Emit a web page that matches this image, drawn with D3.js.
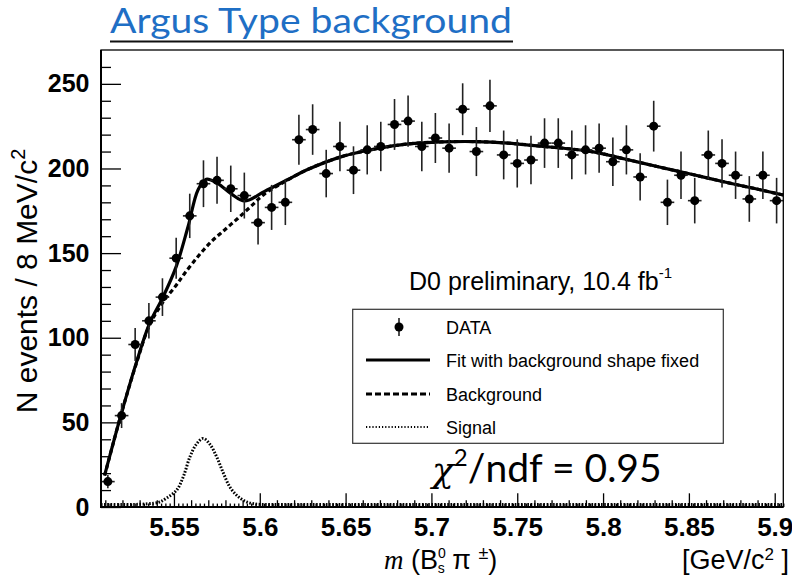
<!DOCTYPE html>
<html>
<head>
<meta charset="utf-8">
<script src="https://cdn.jsdelivr.net/npm/d3@7"></script>
<style>
  html, body { margin: 0; padding: 0; background: #fff; }
  svg { display: block; }
</style>
</head>
<body>
<div id="chart"></div>
<script>
// histogram: bin centres in GeV/c^2 and events per bin
const massBins = [5.5115, 5.5195, 5.5274, 5.5354, 5.5433, 5.5513, 5.5592, 5.5672, 5.5751, 5.5831,
                  5.5910, 5.5990, 5.6069, 5.6149, 5.6228, 5.6308, 5.6387, 5.6467, 5.6546, 5.6626,
                  5.6705, 5.6785, 5.6864, 5.6944, 5.7023, 5.7103, 5.7182, 5.7262, 5.7341, 5.7421,
                  5.7500, 5.7580, 5.7659, 5.7739, 5.7818, 5.7898, 5.7977, 5.8057, 5.8136, 5.8216,
                  5.8295, 5.8375, 5.8454, 5.8534, 5.8613, 5.8693, 5.8772, 5.8852, 5.8931, 5.9011];
const counts = [15, 54, 96, 110, 124, 147, 172, 191, 193, 188,
                184, 168, 177, 180, 217, 223, 197, 213, 199, 211,
                213, 226, 228, 213, 218, 212, 235, 210, 237, 208,
                203, 205, 215, 215, 208, 211, 212, 204, 211, 195,
                225, 180, 196, 181, 208, 203, 196, 182, 196, 181];

// fit curves
const fitMass = [5.5096, 5.5193, 5.5280, 5.5358, 5.5436, 5.5513, 5.5582, 5.5640, 5.5688, 5.5756,
                 5.5834, 5.5912, 5.6028, 5.6164, 5.6282, 5.6477, 5.6671, 5.6865, 5.7059, 5.7253,
                 5.7447, 5.7602, 5.7933, 5.8127, 5.8321, 5.8515, 5.8709, 5.8903, 5.9050];
const fitValues = [18.7, 55, 85, 108.5, 124, 142, 165.6, 187.3, 193.6, 191,
                   185, 180.8, 186.5, 193.5, 199.5, 207, 211.5, 214.5, 215.7, 215.9,
                   215, 213.5, 210, 205.6, 201, 196.6, 192, 187.7, 184.3];
const bkgMass = [5.5096, 5.5193, 5.5280, 5.5358, 5.5436, 5.5513, 5.5562, 5.5640, 5.5717, 5.5795,
                 5.5873, 5.5950, 5.6028, 5.6164, 5.6282, 5.6477, 5.6671, 5.6865, 5.7059, 5.7253,
                 5.7447, 5.7602, 5.7933, 5.8127, 5.8321, 5.8515, 5.8709, 5.8903, 5.9050];
const bkgValues = [18.5, 55, 84.5, 107.5, 121, 131, 138, 148, 156.7, 163.7,
                   170.6, 177.8, 185, 193.3, 199.5, 207, 211.5, 214.5, 215.7, 215.9,
                   215, 213.5, 210, 205.6, 201, 196.6, 192, 187.7, 184.3];
const sigMass = [5.5075, 5.5200, 5.5300, 5.5380, 5.5418, 5.5460, 5.5516, 5.5555, 5.5593, 5.5630,
                 5.5670, 5.5710, 5.5749, 5.5788, 5.5826, 5.5870, 5.5923, 5.5970, 5.6020, 5.6100,
                 5.6500, 5.7500, 5.9050];
const sigValues = [1.5, 1.5, 1.6, 2.2, 3, 5.5, 10, 18, 29.6, 37,
                   40.5, 37, 29.6, 20, 11.8, 6.5, 3, 1.8, 1.5, 1.5,
                   1.5, 1.5, 1.5];

const xMajorTicks = [5.55, 5.6, 5.65, 5.7, 5.75, 5.8, 5.85, 5.9];
const yMajorTicks = [0, 50, 100, 150, 200, 250];
const legendLabels = ["DATA", "Fit with background shape fixed", "Background", "Signal"];

const SANS = "'Liberation Sans', Arial, sans-serif";

class MassFitPlot {
    constructor(width, height) {
        this.width = width;
        this.height = height;
        this.left = 101;
        this.right = 783.3;
        this.top = 50;
        this.bottom = 507;
        this.binWidth = 0.00795;
    }

    plot(element_id) {
        this.svg = this._initPlotArea(element_id);
        this._setScale();
        this._addTitle();
        this._addCurves();
        this._addData();
        this._addAxis();
        this._addTexts();
        this._addLegend();
    }

    _initPlotArea(element_id) {
        d3.select(element_id).selectAll("svg").remove();
        return d3.select(element_id).append("svg")
            .attr("width", this.width).attr("height", this.height);
    }

    _setScale() {
        this.xScale = d3.scaleLinear().domain([5.5075, 5.905]).range([this.left, this.right]);
        this.yScale = d3.scaleLinear().domain([0, 270]).range([this.bottom, this.top]);
    }

    _addTitle() {
        this.svg.append("text")
            .attr("x", 110).attr("y", 33)
            .attr("textLength", 402).attr("lengthAdjust", "spacingAndGlyphs")
            .style("font-family", "Lato, 'Open Sans', sans-serif")
            .style("font-size", "34px")
            .attr("fill", "#1f6fc5")
            .text("Argus Type background");
        this.svg.append("line")
            .attr("x1", 110).attr("x2", 513).attr("y1", 41.5).attr("y2", 41.5)
            .attr("stroke", "#111").attr("stroke-width", 2);
    }

    _axisStyle(g) {
        g.select(".domain").remove();
        g.selectAll(".tick line").attr("stroke", "#000").attr("stroke-width", 1.3);
        g.selectAll("text")
            .style("font-family", SANS).style("font-weight", "bold")
            .style("font-size", "25px").attr("fill", "#000");
    }

    _addAxis() {
        let x = this.xScale, y = this.yScale;
        // tertiary and secondary ticks on the mass axis
        let tiny = d3.range(2203, 2363).filter(function (i) { return i % 4; }).map(function (i) { return i / 400; });
        let mid = d3.range(551, 591).filter(function (i) { return i % 5; }).map(function (i) { return i / 100; });

        this.svg.append("g").attr("transform", "translate(0," + this.bottom + ")")
            .call(d3.axisBottom(x).tickValues(tiny).tickSizeInner(-3.4).tickSizeOuter(0).tickFormat(""))
            .call(g => this._axisStyle(g));
        this.svg.append("g").attr("transform", "translate(0," + this.bottom + ")")
            .call(d3.axisBottom(x).tickValues(mid).tickSizeInner(-6.8).tickSizeOuter(0).tickFormat(""))
            .call(g => this._axisStyle(g));
        let xg = this.svg.append("g").attr("transform", "translate(0," + this.bottom + ")")
            .call(d3.axisBottom(x).tickValues(xMajorTicks).tickSizeInner(-13.7).tickSizeOuter(0)
                .tickPadding(11).tickFormat(d3.format("")))
            .call(g => this._axisStyle(g));
        xg.selectAll("text").style("font-size", "26px");

        let yMinor = d3.range(0, 261, 10).filter(function (v) { return v % 50; });
        this.svg.append("g").attr("transform", "translate(" + this.left + ",0)")
            .call(d3.axisLeft(y).tickValues(yMinor).tickSizeInner(-10).tickSizeOuter(0).tickFormat(""))
            .call(g => this._axisStyle(g));
        this.svg.append("g").attr("transform", "translate(" + this.left + ",0)")
            .call(d3.axisLeft(y).tickValues(yMajorTicks).tickSizeInner(-20).tickSizeOuter(0).tickPadding(11.5))
            .call(g => this._axisStyle(g));

        // frame
        this.svg.append("rect")
            .attr("x", this.left).attr("y", this.top)
            .attr("width", this.right - this.left).attr("height", this.bottom - this.top)
            .attr("fill", "none").attr("stroke", "#000").attr("stroke-width", 1.3);
        this.svg.append("path")
            .attr("d", "M" + this.left + "," + this.top + "V" + this.bottom + "H" + this.right)
            .attr("fill", "none").attr("stroke", "#000").attr("stroke-width", 2);
    }

    _curve(masses, values) {
        let x = this.xScale, y = this.yScale;
        return d3.line()
            .x(function (d) { return x(d[0]); })
            .y(function (d) { return y(d[1]); })
            .curve(d3.curveCatmullRom.alpha(0.5))(d3.zip(masses, values));
    }

    _addCurves() {
        let g = this.svg.append("g").attr("fill", "none").attr("stroke", "#000");
        g.append("path").attr("d", this._curve(sigMass, sigValues))
            .attr("stroke-width", 3).attr("stroke-dasharray", "1.6,1.6");
        g.append("path").attr("d", this._curve(bkgMass, bkgValues))
            .attr("stroke-width", 3.2).attr("stroke-dasharray", "4.5,3");
        g.append("path").attr("d", this._curve(fitMass, fitValues))
            .attr("stroke-width", 3.2).attr("stroke-linejoin", "round");
    }

    _addData() {
        let x = this.xScale, y = this.yScale, half = this.binWidth / 2;
        let data = d3.zip(massBins, counts);
        let g = this.svg.append("g");
        g.selectAll("line.ey").data(data).enter().append("line")
            .attr("x1", function (d) { return x(d[0]); })
            .attr("x2", function (d) { return x(d[0]); })
            .attr("y1", function (d) { return y(d[1] - Math.sqrt(d[1])); })
            .attr("y2", function (d) { return y(d[1] + Math.sqrt(d[1])); })
            .attr("stroke", "#222").attr("stroke-width", 1.6);
        g.selectAll("line.ex").data(data).enter().append("line")
            .attr("x1", function (d) { return x(d[0] - half); })
            .attr("x2", function (d) { return x(d[0] + half); })
            .attr("y1", function (d) { return y(d[1]); })
            .attr("y2", function (d) { return y(d[1]); })
            .attr("stroke", "#222").attr("stroke-width", 1.6);
        g.selectAll("circle").data(data).enter().append("circle")
            .attr("cx", function (d) { return x(d[0]); })
            .attr("cy", function (d) { return y(d[1]); })
            .attr("r", 4.5).attr("fill", "#000");
    }

    _addTexts() {
        // y axis title
        let yt = this.svg.append("text")
            .attr("transform", "translate(37,281) rotate(-90)")
            .attr("text-anchor", "middle")
            .style("font-family", SANS).style("font-size", "30px");
        yt.append("tspan").text("N events / 8 MeV/c");
        yt.append("tspan").attr("dy", -12).style("font-size", "20px").text("2");

        // x axis title
        let xt = this.svg.append("text").attr("x", 384).attr("y", 569)
            .style("font-family", SANS).style("font-size", "27px");
        xt.append("tspan").style("font-family", "'Liberation Serif', serif").style("font-style", "italic").text("m");
        xt.append("tspan").text(" (B");
        xt.append("tspan").attr("dy", -11).style("font-size", "14px").text("0");
        xt.append("tspan").attr("dx", -8).attr("dy", 15).style("font-size", "14px").text("s");
        xt.append("tspan").attr("dy", -4).text(" \u03c0 ");
        xt.append("tspan").attr("dy", -10).style("font-size", "18px").text("\u00b1");
        xt.append("tspan").attr("dy", 10).text(")");

        let ut = this.svg.append("text").attr("x", 789).attr("y", 569).attr("text-anchor", "end")
            .style("font-family", SANS).style("font-size", "27px");
        ut.append("tspan").text("[GeV/c");
        ut.append("tspan").attr("dy", -9).style("font-size", "17px").text("2");
        ut.append("tspan").attr("dy", 9).text(" ]");

        // D0 label
        let d0 = this.svg.append("text").attr("x", 409).attr("y", 290)
            .style("font-family", SANS).style("font-size", "25px");
        d0.append("tspan").text("D0 preliminary, 10.4 fb");
        d0.append("tspan").attr("dy", -12).style("font-size", "15px").text("-1");

        // chi2
        let chi = this.svg.append("text").attr("x", 432).attr("y", 482)
            .style("font-family", "Lato, 'Open Sans', sans-serif").style("font-size", "39px").attr("fill", "#000");
        chi.append("tspan").style("font-family", "'DejaVu Serif', serif").style("font-style", "italic")
            .style("font-size", "36px").text("\u03c7");
        chi.append("tspan").attr("dy", -16).style("font-size", "24px").text("2");
        chi.append("tspan").attr("dy", 16).text("/ndf = 0.95");
    }

    _addLegend() {
        let box = { x: 352.7, y: 309.3, w: 370.6, h: 134 };
        let rowsY = [327, 360, 394, 427];
        let g = this.svg.append("g");
        g.append("rect").attr("x", box.x).attr("y", box.y).attr("width", box.w).attr("height", box.h)
            .attr("fill", "#fff").attr("stroke", "#333").attr("stroke-width", 1.2);

        // DATA marker
        g.append("line").attr("x1", 399).attr("x2", 399).attr("y1", rowsY[0] - 9).attr("y2", rowsY[0] + 9)
            .attr("stroke", "#222").attr("stroke-width", 1.6);
        g.append("circle").attr("cx", 399).attr("cy", rowsY[0]).attr("r", 4.5).attr("fill", "#000");

        g.append("line").attr("x1", 366).attr("x2", 430).attr("y1", rowsY[1]).attr("y2", rowsY[1])
            .attr("stroke", "#000").attr("stroke-width", 3.2);
        g.append("line").attr("x1", 366).attr("x2", 430).attr("y1", rowsY[2]).attr("y2", rowsY[2])
            .attr("stroke", "#000").attr("stroke-width", 3).attr("stroke-dasharray", "6,3");
        g.append("line").attr("x1", 366).attr("x2", 430).attr("y1", rowsY[3]).attr("y2", rowsY[3])
            .attr("stroke", "#000").attr("stroke-width", 2).attr("stroke-dasharray", "1.2,2");

        g.selectAll("text.lab").data(legendLabels).enter().append("text")
            .attr("x", 446)
            .attr("y", function (d, i) { return rowsY[i] + 6.5; })
            .style("font-family", SANS).style("font-size", "18px").attr("fill", "#000")
            .text(function (d) { return d; });
    }
}

new MassFitPlot(792, 578).plot("#chart");
</script>
</body>
</html>
